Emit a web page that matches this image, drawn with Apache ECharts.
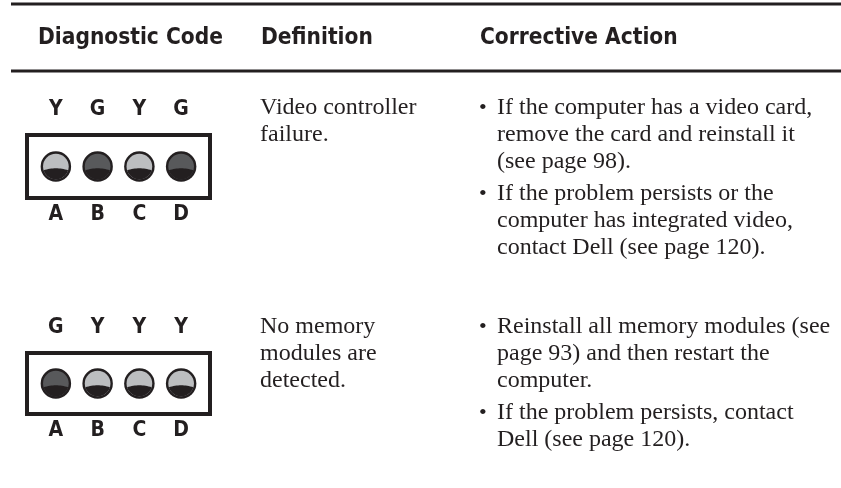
<!DOCTYPE html>
<html><head><meta charset="utf-8">
<script src="https://cdn.jsdelivr.net/npm/echarts@6/dist/echarts.min.js"></script>
<style>html,body{margin:0;padding:0;background:#fff}#c{width:841px;height:488px}</style>
</head><body><div id="c"></div>
<script>
// ---- data ----
const headers = ['Diagnostic Code', 'Definition', 'Corrective Action'];
const positions = ['A', 'B', 'C', 'D'];
const row1Codes = ['Y', 'G', 'Y', 'G'];
const row2Codes = ['G', 'Y', 'Y', 'Y'];
const row1Definition = ['Video controller', 'failure.'];
const row2Definition = ['No memory', 'modules are', 'detected.'];
const row1Actions = [
  ['If the computer has a video card,', 'remove the card and reinstall it', '(see page 98).'],
  ['If the problem persists or the', 'computer has integrated video,', 'contact Dell (see page 120).']
];
const row2Actions = [
  ['Reinstall all memory modules (see', 'page 93) and then restart the', 'computer.'],
  ['If the problem persists, contact', 'Dell (see page 120).']
];

// ---- style / layout ----
const INK = '#231f20';
const LED_COLORS = { Y: '#bcbec0', G: '#58595b' };
const SERIF = "'Liberation Serif', 'DejaVu Serif', serif";
const COND = "'DejaVu Sans Condensed', 'Liberation Sans Narrow', sans-serif";
const LINE = 27, BULLET_GAP = 5;
const rows = [
  { codes: row1Codes, def: row1Definition, actions: row1Actions, y0: 108, gridTop: 135, gridH: 63 },
  { codes: row2Codes, def: row2Definition, actions: row2Actions, y0: 327, gridTop: 353, gridH: 61 }
];

const chart = echarts.init(document.getElementById('c'), null, { renderer: 'canvas' });

function makeRender(codes) {
  return function (params, api) {
    const i = api.value(0);
    const c = api.coord([i, api.value(1)]);
    const bw = api.size([1, 0])[0];
    const r = bw * 0.365;
    const ri = r - 2.4;
    const cx = c[0], cy = c[1];
    const d = ri * 0.30, h = ri * 0.16;
    const xw = Math.sqrt(ri * ri - d * d);
    const pts = [];
    const N = 16;
    for (let k = 0; k <= N; k++) {
      const x = -xw + (2 * xw * k) / N;
      pts.push([cx + x, cy + d - h * (1 - (x * x) / (xw * xw))]);
    }
    const a0 = Math.atan2(d, xw), a1 = Math.PI - a0;
    for (let k = 1; k < N; k++) {
      const a = a0 + ((a1 - a0) * k) / N;
      pts.push([cx + ri * Math.cos(a), cy + ri * Math.sin(a)]);
    }
    const children = [];
    if (params.dataIndex === 0) {
      const cs = params.coordSys;
      children.push({
        type: 'rect',
        shape: { x: cs.x - 8, y: cs.y, width: cs.width + 16, height: cs.height },
        style: { fill: 'none', stroke: INK, lineWidth: 4 }
      });
    }
    children.push({ type: 'circle', shape: { cx: cx, cy: cy, r: r }, style: { fill: INK } });
    children.push({ type: 'circle', shape: { cx: cx, cy: cy, r: ri }, style: { fill: LED_COLORS[codes[i]] } });
    children.push({ type: 'polygon', shape: { points: pts }, style: { fill: INK } });
    return { type: 'group', children: children };
  };
}

const grid = [], xAxis = [], yAxis = [], series = [], graphic = [];

// rules
graphic.push({ type: 'line', shape: { x1: 11, y1: 4, x2: 841, y2: 4 }, style: { stroke: INK, lineWidth: 3 } });
graphic.push({ type: 'line', shape: { x1: 11, y1: 71, x2: 841, y2: 71 }, style: { stroke: INK, lineWidth: 3 } });

// headers
const headerX = [38, 261, 480];
headers.forEach((t, k) => {
  graphic.push({ type: 'text', style: { text: t, x: headerX[k], y: 38, fill: INK,
    font: 'bold 22.5px ' + COND, verticalAlign: 'middle' } });
});

rows.forEach((row, ri) => {
  grid.push({ left: 35, width: 167, top: row.gridTop, height: row.gridH, show: false });
  xAxis.push({ type: 'category', gridIndex: ri, data: positions, position: 'bottom',
    axisLine: { show: false }, axisTick: { show: false },
    axisLabel: { color: INK, fontFamily: COND, fontSize: 21, fontWeight: 'bold', margin: 6 } });
  xAxis.push({ type: 'category', gridIndex: ri, data: positions, position: 'top',
    axisLine: { show: false }, axisTick: { show: false },
    axisLabel: { color: INK, fontFamily: COND, fontSize: 21, fontWeight: 'bold', margin: 15,
      formatter: (v, idx) => row.codes[idx] } });
  yAxis.push({ type: 'value', gridIndex: ri, min: 0, max: 1, show: false });
  series.push({ type: 'custom', xAxisIndex: ri * 2, yAxisIndex: ri,
    data: positions.map((p, i) => [i, 0.5]), renderItem: makeRender(row.codes), silent: true });

  row.def.forEach((t, k) => {
    graphic.push({ type: 'text', style: { text: t, x: 260, y: row.y0 + k * LINE, fill: INK,
      font: '24px ' + SERIF, verticalAlign: 'middle' } });
  });
  let y = row.y0;
  row.actions.forEach((item, b) => {
    if (b > 0) y += BULLET_GAP;
    graphic.push({ type: 'text', style: { text: '•', x: 479, y: y, fill: INK,
      font: '22px ' + SERIF, verticalAlign: 'middle' } });
    item.forEach((t) => {
      graphic.push({ type: 'text', style: { text: t, x: 497, y: y, fill: INK,
        font: '24px ' + SERIF, verticalAlign: 'middle' } });
      y += LINE;
    });
  });
});

chart.setOption({ animation: false, backgroundColor: '#fff', grid, xAxis, yAxis, series, graphic });
</script>
</body></html>
